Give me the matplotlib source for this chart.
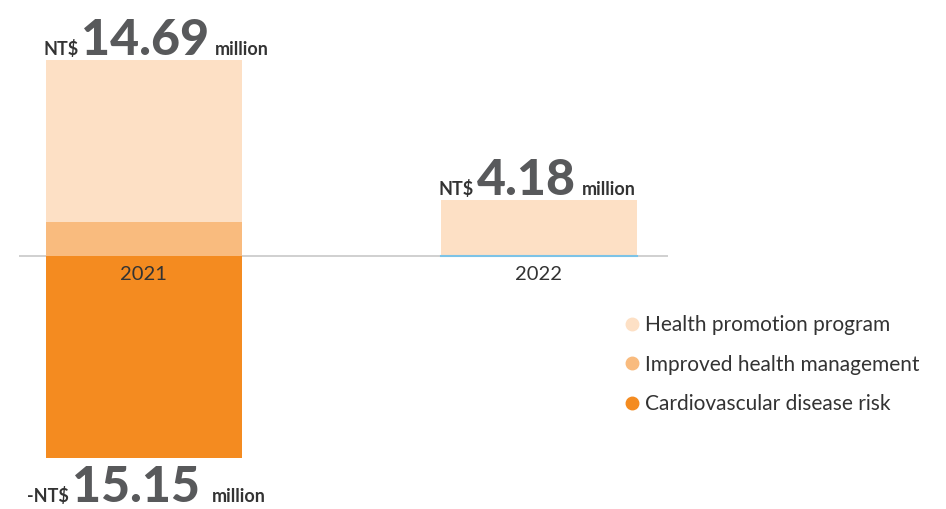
import numpy as np
import matplotlib.pyplot as plt
from matplotlib.lines import Line2D

plt.rcParams['font.family'] = ['Lato', 'DejaVu Sans']

years = ["2021", "2022"]
promotion = [12.17, 4.18]
improved = [2.52, 0.0]
cardio = [-15.15, 0.0]
totals = ["14.69", "4.18", "15.15"]
labels = ["Health promotion program", "Improved health management", "Cardiovascular disease risk"]
colors = ["#FDE0C5", "#F9BB7E", "#F48B20"]

gray = "#58595B"
dark = "#333333"

fig = plt.figure(figsize=(9.46, 5.09), dpi=100)
ax = fig.add_axes([19 / 946, 0, (668 - 19) / 946, 1])

x = np.arange(len(years))
w = 0.496
ax.bar(x, improved, w, color=colors[1], zorder=2)
ax.bar(x, promotion, w, bottom=improved, color=colors[0], zorder=2)
ax.bar(x, cardio, w, color=colors[2], zorder=2)

# thin blue edge along the base of the 2022 bar
ax.plot([x[1] - w / 2, x[1] + w / 2], [0, 0], color="#7CC3E6", lw=1.5, zorder=3)
ax.axhline(0, color="#C8C8C8", lw=1.2, zorder=1)

ax.set_xlim(-0.316, 1.327)
ax.set_ylim(-18.975, 19.2)
ax.axis("off")

for i, yr in enumerate(years):
    ax.annotate(yr, (x[i], 0), xytext=(0, -7), textcoords="offset points",
                ha="center", va="top", fontsize=14.5, color=dark)


def value_label(xc, y, num, prefix, dx, dy, gap):
    big = ax.annotate(num, (xc, y), xytext=(dx, dy), textcoords="offset points",
                      ha="center", va="baseline", fontsize=36, fontweight="black",
                      color=gray)
    ax.annotate(prefix, (0, y), xycoords=(big, "data"), xytext=(-2, dy),
                textcoords="offset points", ha="right", va="baseline",
                fontsize=13, fontweight="bold", color=dark)
    ax.annotate("million", (1, y), xycoords=(big, "data"), xytext=(gap, dy),
                textcoords="offset points", ha="left", va="baseline",
                fontsize=13, fontweight="bold", color=dark)


top = np.array(promotion) + np.array(improved)
value_label(x[0], top[0], totals[0], "NT$", 1, 4, 4)
value_label(x[1], top[1], totals[1], "NT$", -9, 4, 4)
value_label(x[0], cardio[0], totals[2], "-NT$", -6, -32, 9)

handles = [Line2D([], [], marker="o", ls="", markersize=9, color=c) for c in colors]
fig.legend(handles, labels, loc="upper left", bbox_to_anchor=(611 / 946, 1 - 307 / 509),
           frameon=False, fontsize=15, handletextpad=0.05, labelspacing=0.93,
           labelcolor=dark, borderaxespad=0, handlelength=1.2)

fig.savefig("out.png", dpi=100)
